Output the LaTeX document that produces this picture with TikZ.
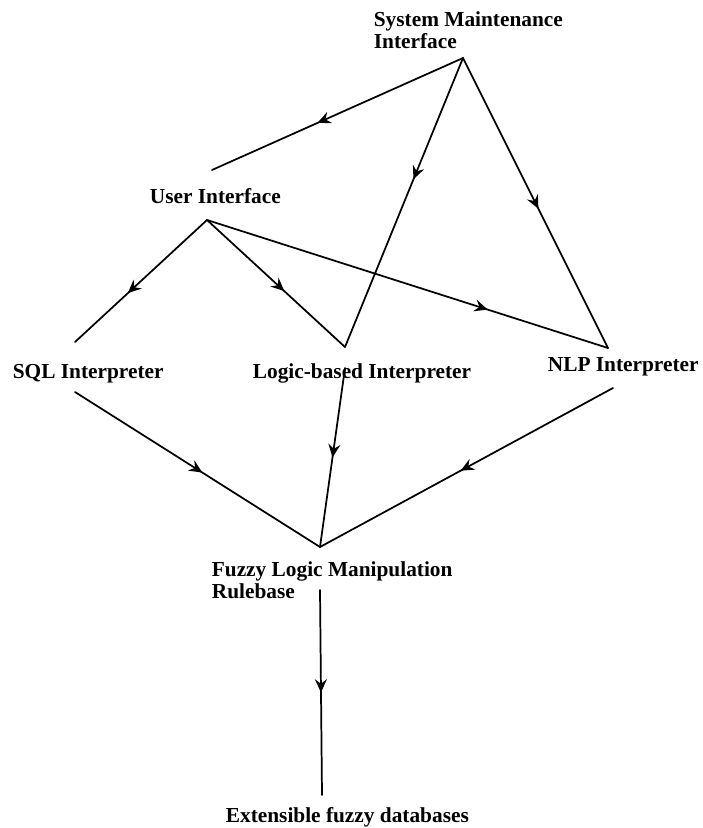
\documentclass[tikz,border=0pt]{standalone}
\usepackage{fontspec}
\setmainfont{Liberation Serif}
\usetikzlibrary{arrows.meta,decorations.markings}

\begin{document}
\begin{tikzpicture}[x=0.75pt, y=-0.75pt, line width=1.3pt, line cap=round, line join=round,
    lbl/.style={anchor=base west, inner sep=0pt, align=left, font=\fontsize{16}{16.5}\selectfont\bfseries},
    flow/.style={postaction={decorate}, decoration={markings,
        mark=at position #1 with {\arrow{Stealth[length=10pt, width=9pt, inset=3.5pt]}}}}]
	\useasboundingbox (0,0) rectangle (703,828);
	% labels (two-line nodes sit on their last line)
	\node[lbl] (smi) at (373,48) {System Maintenance\\Interface};
	\node[lbl] (ui) at (149,203) {User Interface};
	\node[lbl] (sql) at (12,378) {SQL Interpreter};
	\node[lbl] (logic) at (252,378) {Logic-based Interpreter};
	\node[lbl] (nlp) at (547,371) {NLP Interpreter};
	\node[lbl] (fuzzy) at (211,598) {Fuzzy Logic Manipulation\\Rulebase};
	\node[lbl] (ext) at (225,822) {Extensible fuzzy databases};
	% line ends
	\coordinate (smiOut) at (463,58);
	\coordinate (uiIn) at (212,170);
	\coordinate (uiOut) at (207,220);
	\coordinate (sqlIn) at (75,342);
	\coordinate (sqlOut) at (75,392);
	\coordinate (logicIn) at (345,347);
	\coordinate (logicOut) at (345,368);
	\coordinate (nlpIn) at (608,348);
	\coordinate (nlpOut) at (613,388);
	\coordinate (fuzzyIn) at (320,547);
	\coordinate (fuzzyOut) at (320,590);
	\coordinate (extIn) at (322,795);
	% connectors
	\draw[flow=0.58] (smiOut) -- (uiIn);
	\draw[flow=0.42] (smiOut) -- (logicIn);
	\draw[flow=0.52] (smiOut) -- (nlpIn);
	\draw[flow=0.6] (uiOut) -- (sqlIn);
	\draw[flow=0.56] (uiOut) -- (logicIn);
	\draw[flow=0.7] (uiOut) -- (nlpIn);
	\draw[flow=0.52] (sqlOut) -- (fuzzyIn);
	\draw[flow=0.5] (logicOut) -- (fuzzyIn);
	\draw[flow=0.52] (nlpOut) -- (fuzzyIn);
	\draw[flow=0.5] (fuzzyOut) -- (extIn);
\end{tikzpicture}
\end{document}
